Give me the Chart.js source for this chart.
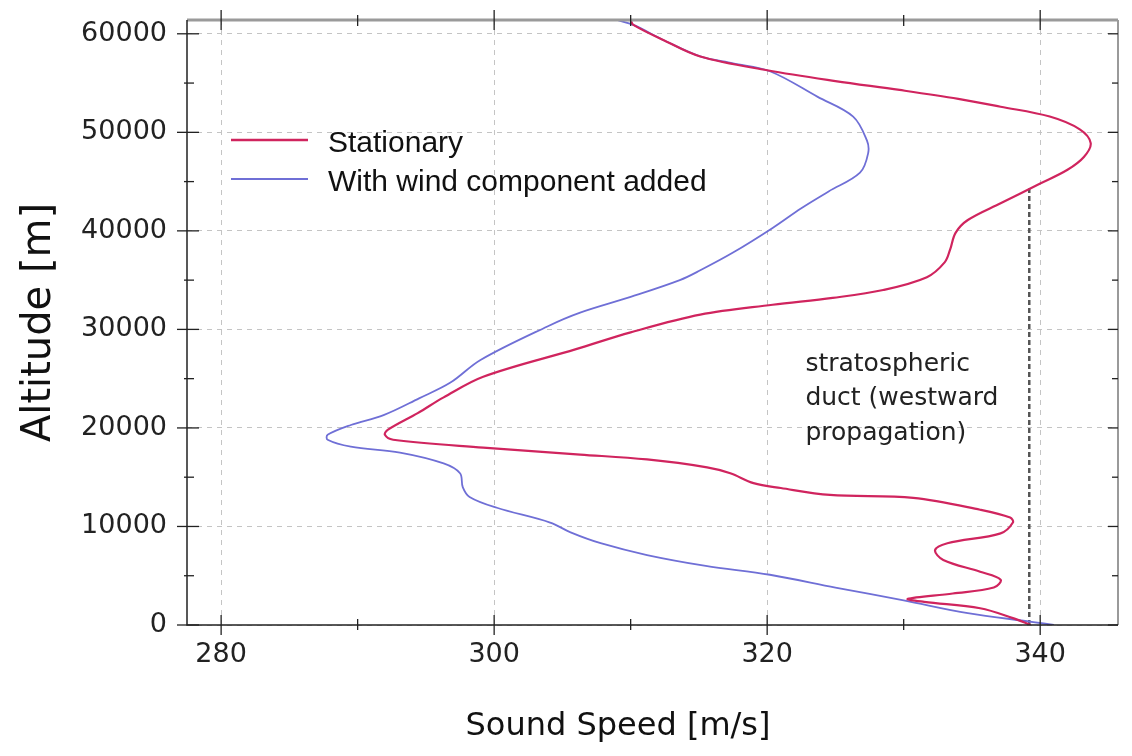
<!DOCTYPE html>
<html>
<head>
<meta charset="utf-8">
<script src="https://cdn.jsdelivr.net/npm/chart.js@4"></script>
<style>
  body { margin: 0; background: #fff; }
  canvas { display: block; }
</style>
</head>
<body>
<canvas id="grafica" width="1132" height="756"></canvas>
<script>
const estacionarioVel = [310.0, 310.2, 312.5, 315.1, 320.0, 325.0, 329.7, 334.0, 337.1, 340.7, 342.9, 343.7, 343.2, 342.0, 340.0, 337.1, 334.7, 333.8, 333.4, 333.0, 331.7, 328.5, 324.8, 320.4, 315.1, 310.0, 306.0, 299.2, 296.3, 294.4, 292.2, 292.0, 292.6, 299.2, 306.3, 311.2, 315.6, 317.3, 319.0, 321.0, 324.6, 330.7, 335.6, 337.8, 338.0, 337.1, 333.2, 332.3, 332.9, 335.6, 337.1, 336.6, 333.6, 330.3, 331.5, 335.6, 338.0, 339.3];
const estacionarioAlt = [61400, 60900, 59300, 57700, 56300, 55200, 54300, 53400, 52600, 51600, 50300, 48900, 47500, 46200, 44800, 42800, 41100, 39800, 38100, 36800, 35300, 34000, 33200, 32500, 31500, 29700, 28000, 25200, 23100, 21500, 19800, 19300, 18800, 18000, 17300, 16800, 16000, 15400, 14400, 13900, 13200, 12900, 11700, 10900, 10400, 9300, 8300, 7600, 6600, 5400, 4600, 3800, 3200, 2650, 2350, 1700, 700, 0];

const vientoVel = [309.0, 310.2, 312.5, 315.1, 317.5, 320.2, 323.7, 326.3, 327.3, 327.4, 326.8, 324.5, 322.5, 320.4, 317.5, 315.1, 313.6, 310.0, 306.3, 303.9, 299.0, 296.8, 294.5, 291.9, 289.5, 287.8, 287.8, 289.5, 293.1, 296.3, 297.5, 297.7, 298.2, 300.2, 304.1, 305.6, 307.8, 311.2, 315.5, 320.2, 325.0, 330.0, 334.7, 339.5, 341.0];
const vientoAlt = [61400, 60900, 59300, 57700, 57000, 56200, 53600, 51600, 49200, 47900, 45900, 44000, 42300, 40300, 37800, 36000, 35000, 33300, 31700, 30300, 26900, 24600, 23000, 21300, 20300, 19300, 18800, 18100, 17500, 16400, 15400, 14000, 13000, 11900, 10400, 9400, 8300, 7100, 6000, 5100, 3800, 2500, 1200, 300, 0];

// Límite del ducto (línea discontinua)
const ductoVel = [339.2, 339.2];
const ductoAlt = [0, 44300];

const ticksX = [280, 300, 320, 340];
const ticksXMenores = [290, 310, 330];
const ticksY = [0, 10000, 20000, 30000, 40000, 50000, 60000];
const ticksYMenores = [5000, 15000, 25000, 35000, 45000, 55000];

const etiquetas = ["Stationary", "With wind component added"];
const textoDucto = ["stratospheric", "duct (westward", "propagation)"];

const ROJO = "#d0245e";
const AZUL = "#6f6fd6";

const aPuntos = (xs, ys) => xs.map((v, i) => ({ x: v, y: ys[i] }));

// =========================
//   Marco, ticks y textos
// =========================
const marco = {
    id: "marco",
    afterDraw(chart) {
        const { ctx, chartArea: a, scales: { x, y } } = chart;
        ctx.save();

        // bordes superior y derecho (gris)
        ctx.strokeStyle = "#9a9a9a";
        ctx.lineWidth = 3;
        ctx.beginPath();
        ctx.moveTo(a.left, a.top);
        ctx.lineTo(a.right, a.top);
        ctx.stroke();
        ctx.lineWidth = 2;
        ctx.beginPath();
        ctx.moveTo(a.right, a.top);
        ctx.lineTo(a.right, a.bottom);
        ctx.stroke();

        // ejes izquierdo e inferior
        ctx.strokeStyle = "#222";
        ctx.lineWidth = 1.5;
        ctx.beginPath();
        ctx.moveTo(a.left, a.top);
        ctx.lineTo(a.left, a.bottom);
        ctx.lineTo(a.right, a.bottom);
        ctx.stroke();

        ctx.lineWidth = 1.3;
        const linea = (x1, y1, x2, y2) => {
            ctx.beginPath();
            ctx.moveTo(x1, y1);
            ctx.lineTo(x2, y2);
            ctx.stroke();
        };
        ticksX.forEach(v => {
            const px = x.getPixelForValue(v);
            linea(px, a.bottom - 10, px, a.bottom + 10);
            linea(px, a.top - 10, px, a.top + 10);
        });
        ticksXMenores.forEach(v => {
            const px = x.getPixelForValue(v);
            linea(px, a.bottom - 6, px, a.bottom + 5);
            linea(px, a.top - 5, px, a.top + 6);
        });
        ticksY.forEach(v => {
            const py = y.getPixelForValue(v);
            linea(a.left - 10, py, a.left + 12, py);
            linea(a.right - 10, py, a.right, py);
        });
        ticksYMenores.forEach(v => {
            const py = y.getPixelForValue(v);
            linea(a.left - 3, py, a.left + 7, py);
            linea(a.right - 6, py, a.right, py);
        });

        // leyenda
        ctx.font = "30px 'Liberation Sans'";
        ctx.textBaseline = "middle";
        ctx.fillStyle = "#111";
        [ROJO, AZUL].forEach((color, i) => {
            const ly = a.top + 120 + i * 39;
            ctx.strokeStyle = color;
            ctx.lineWidth = i === 0 ? 2.5 : 2;
            linea(a.left + 44, ly, a.left + 121, ly);
            ctx.fillText(etiquetas[i], a.left + 141, ly + 4);
        });

        // nota del ducto
        ctx.font = "25px 'DejaVu Sans'";
        ctx.textBaseline = "alphabetic";
        ctx.fillStyle = "#222";
        const nx = x.getPixelForValue(322.8);
        const ny = y.getPixelForValue(25800);
        textoDucto.forEach((t, i) => ctx.fillText(t, nx, ny + i * 34.5));

        // títulos de ejes
        ctx.fillStyle = "#111";
        ctx.textAlign = "center";
        ctx.textBaseline = "middle";
        ctx.font = "32px 'DejaVu Sans'";
        ctx.fillText("Sound Speed [m/s]", 618, 727);
        ctx.save();
        ctx.translate(40, (a.top + a.bottom) / 2);
        ctx.rotate(-Math.PI / 2);
        ctx.font = "40px 'DejaVu Sans'";
        ctx.fillText("Altitude [m]", 0, 0);
        ctx.restore();

        ctx.restore();
    }
};

new Chart(document.getElementById("grafica"), {
    type: "scatter",
    data: {
        datasets: [
            {
                label: etiquetas[0],
                data: aPuntos(estacionarioVel, estacionarioAlt),
                showLine: true,
                borderColor: ROJO,
                borderWidth: 2.2,
                pointRadius: 0,
                tension: 0.35
            },
            {
                label: etiquetas[1],
                data: aPuntos(vientoVel, vientoAlt),
                showLine: true,
                borderColor: AZUL,
                borderWidth: 1.8,
                pointRadius: 0,
                tension: 0.35
            },
            {
                label: "ducto",
                data: aPuntos(ductoVel, ductoAlt),
                showLine: true,
                borderColor: "#555",
                borderWidth: 2.5,
                borderDash: [5, 3],
                pointRadius: 0
            }
        ]
    },
    options: {
        responsive: false,
        animation: false,
        layout: { padding: { left: 0, right: 14, top: 20, bottom: 0 } },
        plugins: {
            legend: { display: false },
            tooltip: { enabled: false }
        },
        scales: {
            x: {
                type: "linear",
                min: 277.5,
                max: 345.7,
                afterBuildTicks: s => { s.ticks = ticksX.map(v => ({ value: v })); },
                afterFit: s => { s.height = 131; s.paddingLeft = 0; s.paddingRight = 0; },
                grid: { color: "#c4c4c4", lineWidth: 1, drawTicks: false },
                border: { display: false, dash: [5, 5] },
                ticks: {
                    padding: 14,
                    color: "#222",
                    font: { family: "DejaVu Sans", size: 27 }
                }
            },
            y: {
                type: "linear",
                min: 0,
                max: 61400,
                afterBuildTicks: s => { s.ticks = ticksY.map(v => ({ value: v })); },
                afterFit: s => { s.width = 187; s.paddingTop = 0; s.paddingBottom = 0; },
                grid: { color: "#c4c4c4", lineWidth: 1, drawTicks: false },
                border: { display: false, dash: [5, 5] },
                ticks: {
                    padding: 20,
                    color: "#222",
                    font: { family: "DejaVu Sans", size: 27 },
                    callback: v => String(v)
                }
            }
        }
    },
    plugins: [marco]
});
</script>
</body>
</html>
